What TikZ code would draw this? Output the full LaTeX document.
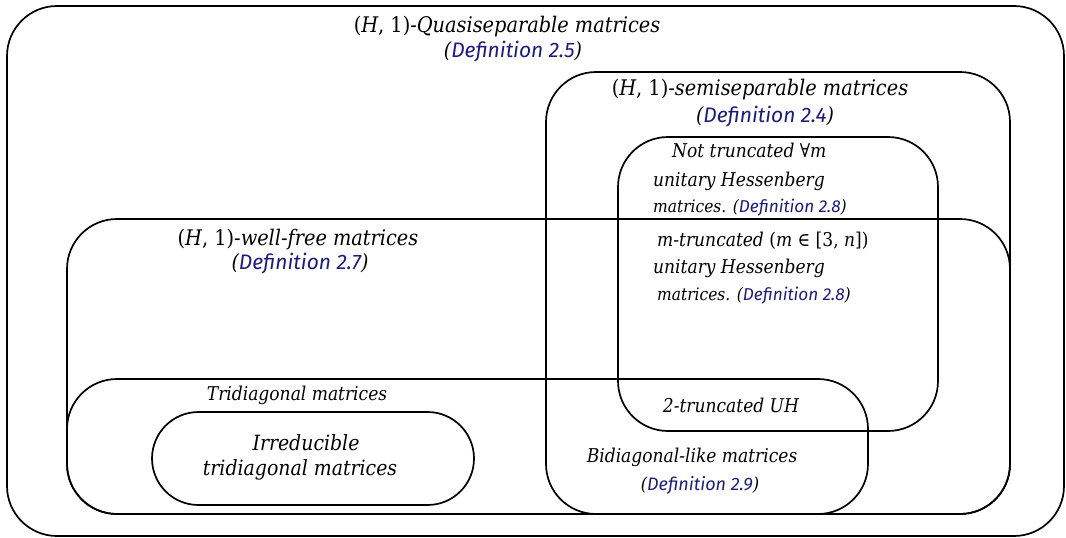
\documentclass[tikz,border=0pt]{standalone}
\usepackage{fontspec}
\setmainfont{DejaVu Serif Condensed}
\newfontfamily\deffont{Fira Sans}
\definecolor{defblue}{RGB}{28,28,125}
% reference to a definition: blue sans label between italic parentheses
\newcommand{\dref}[1]{\textit{(}{\deffont\itshape\textcolor{defblue}{Definition #1}}\textit{)}}
\newcommand{\Hone}{\textup{(}\textit{H}\textup{, 1)}}
\begin{document}
\begin{tikzpicture}[x=1pt,y=-1pt,
  setbox/.style={draw=black,line width=1.7pt,rounded corners=50pt},
  big/.style={font=\fontsize{21.5}{25}\selectfont\itshape,inner sep=0pt},
  defline/.style={font=\fontsize{21}{25}\selectfont\itshape,inner sep=0pt},
  mid/.style={font=\fontsize{19}{22}\selectfont\itshape,inner sep=0pt},
  small/.style={font=\fontsize{17.2}{20}\selectfont\itshape,inner sep=0pt}]
\useasboundingbox (0,0) rectangle (1066,538);

% nested classes of matrices
\draw[setbox] (7,6) rectangle (1064,536);          % quasiseparable
\draw[setbox] (546,72) rectangle (1010,514);       % semiseparable
\draw[setbox] (67,219) rectangle (1010,514);       % well-free
\draw[setbox] (618,137) rectangle (938,431);       % unitary Hessenberg
\draw[setbox] (67,379) rectangle (868,514);        % tridiagonal
\draw[setbox,rounded corners=46.5pt] (152,412) rectangle (474,505); % irreducible tridiagonal

% labels
\node[big] (qs) at (507,27) {\Hone-Quasiseparable matrices};
\node[defline] (qsdef) at (513,52) {\dref{2.5}};
\node[big] (ss) at (760,90) {\Hone-semiseparable matrices};
\node[defline] (ssdef) at (765,117) {\dref{2.4}};

\node[mid,anchor=mid west] (nt1) at (672,155) {Not truncated ∀\textit{m}};
\node[mid,anchor=mid west] (nt2) at (653,184) {unitary Hessenberg};
\node[small,anchor=mid west] (nt3) at (653,210) {matrices. \dref{2.8}};

\node[mid,anchor=mid west] (mt1) at (657,244) {\textit{m}-truncated \textup{(}\textit{m} \textup{∈ [3,} \textit{n}\textup{])}};
\node[mid,anchor=mid west] (mt2) at (653,271) {unitary Hessenberg};
\node[small,anchor=mid west] (mt3) at (657,298) {matrices. \dref{2.8}};

\node[big] (wf) at (298,240) {\Hone-well-free matrices};
\node[defline] (wfdef) at (300,264) {\dref{2.7}};

\node[mid] (tri) at (297,395) {Tridiagonal matrices};
\node[big,font=\fontsize{21}{25}\selectfont\itshape] (irr1) at (306,443) {Irreducible};
\node[big,font=\fontsize{21}{25}\selectfont\itshape] (irr2) at (300,470) {tridiagonal matrices};

\node[mid] (uh2) at (731,405) {2-truncated UH};
\node[mid] (bd) at (692,457) {Bidiagonal-like matrices};
\node[small,font=\fontsize{18}{21}\selectfont\itshape] (bddef) at (700,485) {\dref{2.9}};
\end{tikzpicture}
\end{document}
